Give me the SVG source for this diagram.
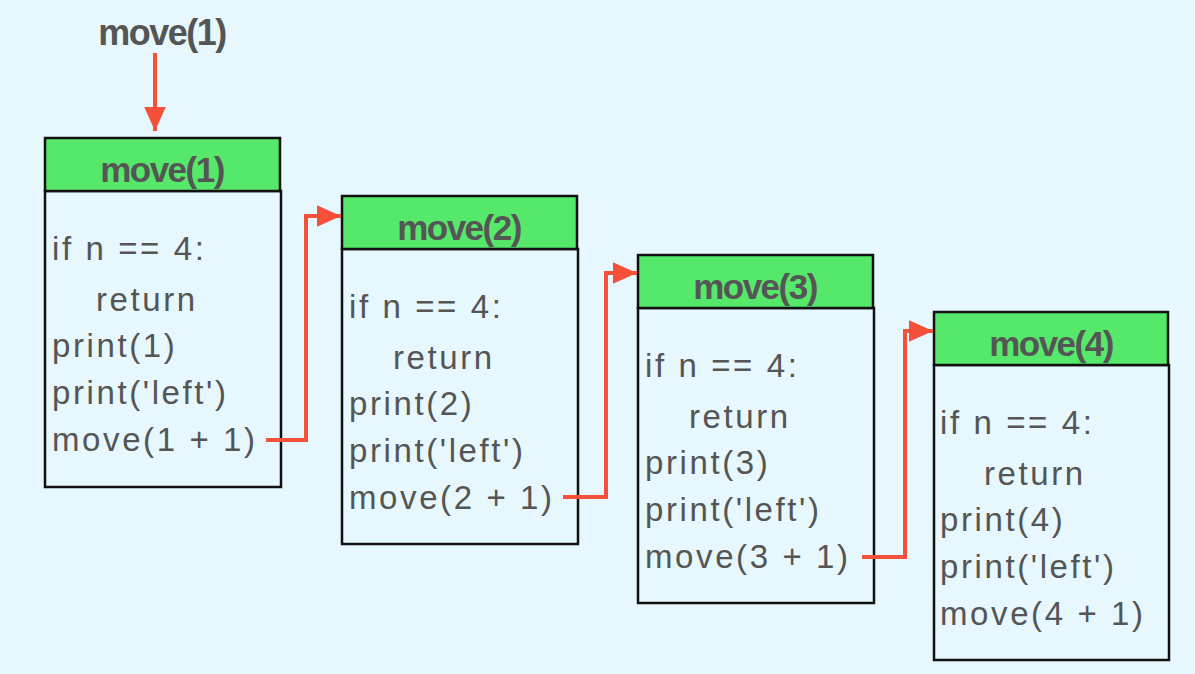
<svg xmlns="http://www.w3.org/2000/svg" width="1195" height="674" viewBox="0 0 1195 674">
<style>
.hdr{fill:#55e86a;stroke:#111;stroke-width:2.5}
.body{fill:#e6f7fd;stroke:#111;stroke-width:2.5}
.ht{font-family:"Liberation Sans",Arial,sans-serif;font-weight:bold;font-size:35px;fill:#555;text-anchor:middle;letter-spacing:-1.5px}
.bt{font-family:"Liberation Sans",Arial,sans-serif;font-size:33px;fill:#555;letter-spacing:2.6px}
.con{fill:none;stroke:#f5503a;stroke-width:4}
</style>
<defs>
<marker id="a" viewBox="0 0 10 10" refX="10" refY="5" markerWidth="24" markerHeight="24" markerUnits="userSpaceOnUse" orient="auto">
<path d="M0,0.5 L10,5 L0,9.5 z" fill="#f5503a"/>
</marker>
</defs>
<rect width="1195" height="674" fill="#e6f7fd"/>
<text x="162" y="45" class="ht" style="font-size:36px">move(1)</text>
<g id="node1">
<rect class="body" x="45" y="191" width="236" height="296"/>
<rect class="hdr" x="45" y="138" width="235" height="53"/>
<text class="ht" x="162" y="182">move(1)</text>
<text class="bt" x="52" y="260">if n == 4:</text>
<text class="bt" x="96" y="311">return</text>
<text class="bt" x="52" y="357">print(1)</text>
<text class="bt" x="52" y="404">print('left')</text>
<text class="bt" x="52" y="451">move(1 + 1)</text>
</g>
<g id="node2">
<rect class="body" x="342" y="249" width="236" height="295"/>
<rect class="hdr" x="342" y="196" width="235" height="53"/>
<text class="ht" x="459" y="240">move(2)</text>
<text class="bt" x="349" y="318">if n == 4:</text>
<text class="bt" x="393" y="369">return</text>
<text class="bt" x="349" y="415">print(2)</text>
<text class="bt" x="349" y="462">print('left')</text>
<text class="bt" x="349" y="509">move(2 + 1)</text>
</g>
<g id="node3">
<rect class="body" x="638" y="308" width="236" height="295"/>
<rect class="hdr" x="638" y="255" width="235" height="53"/>
<text class="ht" x="755" y="299">move(3)</text>
<text class="bt" x="645" y="377">if n == 4:</text>
<text class="bt" x="689" y="428">return</text>
<text class="bt" x="645" y="474">print(3)</text>
<text class="bt" x="645" y="521">print('left')</text>
<text class="bt" x="645" y="568">move(3 + 1)</text>
</g>
<g id="node4">
<rect class="body" x="934" y="365" width="235" height="295"/>
<rect class="hdr" x="934" y="312" width="234" height="53"/>
<text class="ht" x="1051" y="356">move(4)</text>
<text class="bt" x="940" y="434">if n == 4:</text>
<text class="bt" x="984" y="485">return</text>
<text class="bt" x="940" y="531">print(4)</text>
<text class="bt" x="940" y="578">print('left')</text>
<text class="bt" x="940" y="625">move(4 + 1)</text>
</g>
<g id="connectors">
<path class="con" d="M266,440 H306 V216 H341" marker-end="url(#a)"/>
<path class="con" d="M563,497 H606 V273 H637" marker-end="url(#a)"/>
<path class="con" d="M862,557 H905 V331 H933" marker-end="url(#a)"/>
<path class="con" d="M155,53 V131" marker-end="url(#a)"/>
</g>
</svg>
